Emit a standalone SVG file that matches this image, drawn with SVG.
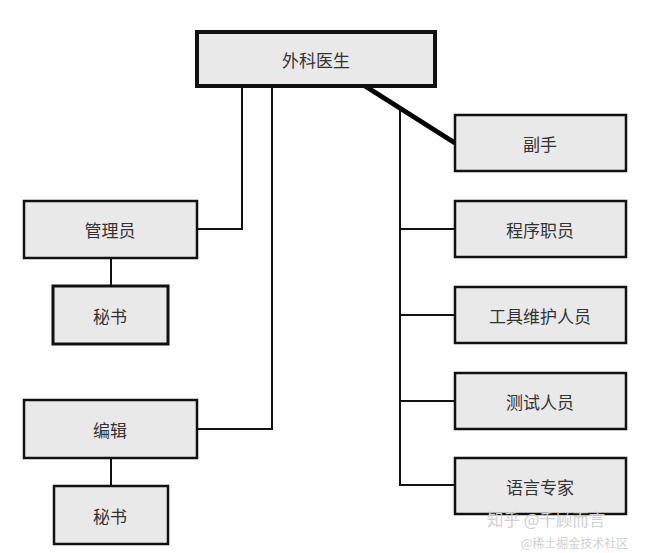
<svg xmlns="http://www.w3.org/2000/svg" width="646" height="553" viewBox="0 0 646 553">
<style>
.box{fill:#e9e9e9;stroke:#111;stroke-width:2.5}
.lbl{font-family:"Noto Sans CJK SC","Noto Sans",sans-serif;font-size:17px;fill:#333;text-anchor:middle;dominant-baseline:central}
.ln{fill:none;stroke:#111;stroke-width:2}
.wm{font-family:"Noto Sans CJK SC",sans-serif;fill:#d0d0d0}
</style>
<rect width="646" height="553" fill="#fff"/>
<g id="connectors">
<polyline class="ln" points="242,86 242,229 197,229"/>
<polyline class="ln" points="272,86 272,429 197,429"/>
<line class="ln" x1="111" y1="258" x2="111" y2="285"/>
<line class="ln" x1="111" y1="458" x2="111" y2="485"/>
<line x1="365" y1="86" x2="455" y2="143" stroke="#000" stroke-width="5"/>
<polyline class="ln" points="400,109 400,485 455,485"/>
<line class="ln" x1="400" y1="229" x2="455" y2="229"/>
<line class="ln" x1="400" y1="315" x2="455" y2="315"/>
<line class="ln" x1="400" y1="401" x2="455" y2="401"/>
</g>
<g id="n-surgeon"><rect class="box" x="197" y="32" width="238" height="54" style="stroke-width:4"/><text class="lbl" x="316" y="59">外科医生</text></g>
<g id="n-admin"><rect class="box" x="24" y="201" width="173" height="57"/><text class="lbl" x="110" y="229">管理员</text></g>
<g id="n-sec1"><rect class="box" x="53" y="286" width="115" height="58" style="stroke-width:3"/><text class="lbl" x="110" y="315">秘书</text></g>
<g id="n-editor"><rect class="box" x="24" y="400" width="173" height="58"/><text class="lbl" x="110" y="429">编辑</text></g>
<g id="n-sec2"><rect class="box" x="54" y="486" width="114" height="58"/><text class="lbl" x="110" y="515">秘书</text></g>
<g id="n-copilot"><rect class="box" x="455" y="115" width="171" height="56"/><text class="lbl" x="540" y="143">副手</text></g>
<g id="n-clerk"><rect class="box" x="455" y="201" width="171" height="56"/><text class="lbl" x="540" y="229">程序职员</text></g>
<g id="n-toolsmith"><rect class="box" x="455" y="287" width="171" height="56"/><text class="lbl" x="540" y="315">工具维护人员</text></g>
<g id="n-tester"><rect class="box" x="455" y="373" width="171" height="56"/><text class="lbl" x="540" y="401">测试人员</text></g>
<g id="n-lawyer"><rect class="box" x="455" y="458" width="171" height="56"/><text class="lbl" x="540" y="486">语言专家</text></g>
<text class="wm" x="487" y="526" font-size="16.5">知乎 @千顾而言</text>
<text class="wm" x="521" y="548" font-size="12">@稀土掘金技术社区</text>
</svg>
